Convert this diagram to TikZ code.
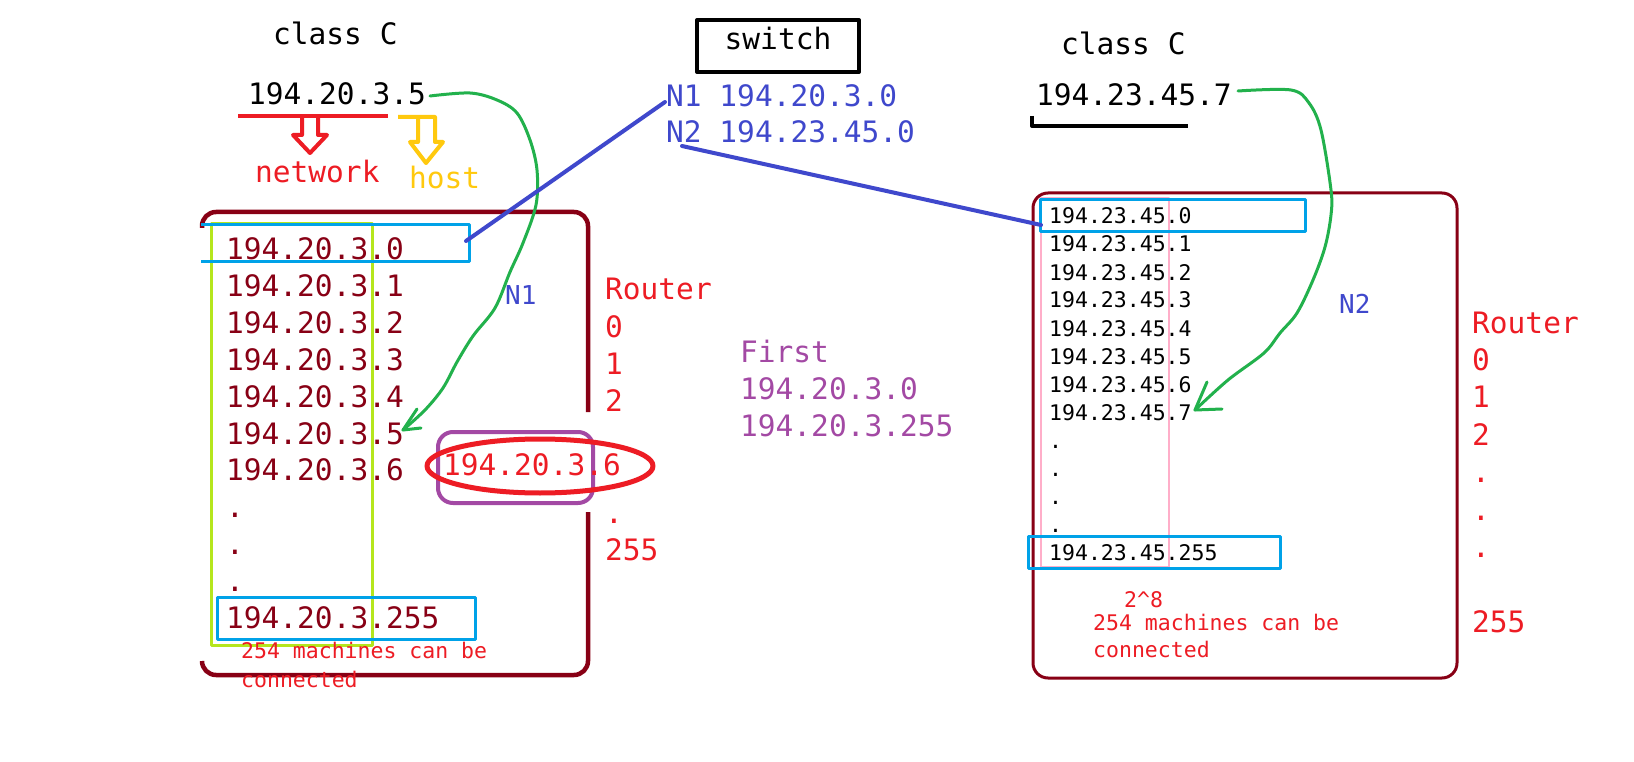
\documentclass[tikz,border=0pt]{standalone}
\usepackage{fontspec}
\newfontfamily\cons{DejaVu Sans Mono}
\definecolor{dred}{HTML}{880015}
\definecolor{pred}{HTML}{ED1C24}
\definecolor{pyel}{HTML}{FFC90E}
\definecolor{nblue}{HTML}{3F48CC}
\definecolor{cyanb}{HTML}{00A2E8}
\definecolor{lime}{HTML}{B5E61D}
\definecolor{purp}{HTML}{A349A4}
\definecolor{pink}{HTML}{FFAEC9}
\definecolor{pgreen}{HTML}{22B14C}
\begin{document}
\begin{tikzpicture}[x=1pt,y=-1pt,line join=round,
  big/.style={font=\cons\fontsize{29.5}{30}\selectfont,inner sep=0pt,anchor=base west},
  small/.style={font=\cons\fontsize{21.5}{22}\selectfont,inner sep=0pt,anchor=base west},
  nlab/.style={font=\cons\fontsize{26}{26}\selectfont,inner sep=0pt,anchor=base west,text=nblue},
  bl/.style={draw=nblue,line width=4pt,line cap=round},
  gr/.style={draw=pgreen,line width=3pt,line cap=round},
  cbox/.style={draw=cyanb,line width=3pt}]
\useasboundingbox (0,0) rectangle (1634,762);
\fill[white] (0,0) rectangle (1634,762);

% ---------- left header ----------
\node[big] (cl1) at (273,45) {class C};
\node[big] (ip1) at (248,105) {194.20.3.5};
\draw[pred,line width=4pt] (238,116) -- (388,116);
\draw[pred,line width=4pt] (302,116) -- (302,135) -- (293,135) -- (310,153) -- (327,135) -- (318,135) -- (318,116);
\draw[pyel,line width=4pt] (398,117) -- (435,117) -- (435,142) -- (443,142) -- (426,163) -- (410,142) -- (418,142) -- (418,117);
\node[big,text=pred] (net) at (255,183) {network};
\node[big,text=pyel] (host) at (409,189) {host};

% ---------- left box ----------
\draw[dred,line width=4.5pt,rounded corners=14pt] (202,228) |- (588,212) -- (588,412);
\draw[dred,line width=4.5pt,rounded corners=14pt] (588,512) |- (202,675) -- (202,661);
\draw[lime,line width=3pt] (211,224) rectangle (372,645);
\draw[cbox] (201,225) -- (469,225) -- (469,262) -- (201,262);
\draw[cbox] (217,597) rectangle (475,639);
\foreach \t [count=\i from 0] in {194.20.3.0,194.20.3.1,194.20.3.2,194.20.3.3,194.20.3.4,194.20.3.5,194.20.3.6,.,.,.,194.20.3.255}
  \node[big,text=dred] (la\i) at (226,{260+\i*36.8}) {\t};
\node[small,text=pred] (m1a) at (241,658) {254 machines can be};
\node[small,text=pred] (m1b) at (241,687) {connected};
\node[nlab] (n1lab) at (505,305) {N1};
\foreach \t [count=\i from 0] in {Router,0,1,2,,,.,255}
  \node[big,text=pred] (ra\i) at (605,{300+\i*37.2}) {\t};

% ellipse & purple box
\draw[purp,line width=4pt,rounded corners=15pt] (438,432) rectangle (593,503);
\draw[pred,line width=5pt] (540,466) ellipse [x radius=113pt,y radius=27pt];
\node[big,text=pred] (sel) at (443,475) {194.20.3.6};

% green curve left
\coordinate (g1s) at (430,96);
\coordinate (g1t) at (403,430);
\draw[gr] plot[smooth,tension=0.55] coordinates {(g1s) (470,93) (497,100) (517,113) (530,140) (537,170) (536,205) (523,243) (510,272) (495,308) (473,336) (457,362) (443,388) (425,410) (g1t)};
\draw[gr] (417,409) -- (g1t) -- (421,428);

% ---------- switch ----------
\node[draw,line width=4pt,minimum width=162pt,minimum height=52pt,inner sep=0pt,
  text height=14pt,text depth=6pt,font=\cons\fontsize{29.5}{30}\selectfont] (sw) at (778,46) {switch};
\node[big,text=nblue] (sw1) at (666,107) {N1 194.20.3.0};
\node[big,text=nblue] (sw2) at (666,143) {N2 194.23.45.0};
\node[big,text=purp] (f0) at (740,362) {First};
\node[big,text=purp] (f1) at (740,399) {194.20.3.0};
\node[big,text=purp] (f2) at (740,436) {194.20.3.255};

% ---------- right header ----------
\node[big] (cl2) at (1061,55) {class C};
\node[big] (ip2) at (1036,106) {194.23.45.7};
\draw[black,line width=4pt] (1032,116) -- (1032,126) -- (1188,126);

% ---------- right box ----------
\draw[dred,line width=3pt,rounded corners=15pt] (1033,193) rectangle (1457,678);
\draw[pink,line width=2pt] (1041,198) rectangle (1169,567);
\draw[cbox] (1040,200) rectangle (1305,232);
\draw[cbox] (1028,536) rectangle (1280,568);
\foreach \t [count=\i from 0] in {194.23.45.0,194.23.45.1,194.23.45.2,194.23.45.3,194.23.45.4,194.23.45.5,194.23.45.6,194.23.45.7,.,.,.,.,194.23.45.255}
  \node[small] (rb\i) at (1049,{224+\i*28}) {\t};
\node[small,text=pred] (pw) at (1124,607) {2\char`\^8};
\node[small,text=pred] (m2a) at (1093,630) {254 machines can be};
\node[small,text=pred] (m2b) at (1093,657) {connected};
\node[nlab] (n2lab) at (1339,313) {N2};
\foreach \t [count=\i from 0] in {Router,0,1,2,.,.,.,,255}
  \node[big,text=pred] (rr\i) at (1472,{333+\i*37.4}) {\t};

% green curve right
\coordinate (g2s) at (1238,91);
\coordinate (g2t) at (1195,410);
\draw[gr] plot[smooth,tension=0.55] coordinates {(g2s) (1291,90) (1309,103) (1321,130) (1331,190) (1331,215) (1325,247) (1313,280) (1297,313) (1280,333) (1264,353) (1228,380) (g2t)};
\draw[gr] (1207,382) -- (g2t) -- (1222,409);

% ---------- blue connectors ----------
\coordinate (n1a) at (665,102);
\coordinate (n1b) at (466,241);
\coordinate (n2a) at (682,146);
\coordinate (n2b) at (1041,225);
\draw[bl] (n1a) -- (n1b);
\draw[bl] (n2a) -- (n2b);
\end{tikzpicture}
\end{document}
